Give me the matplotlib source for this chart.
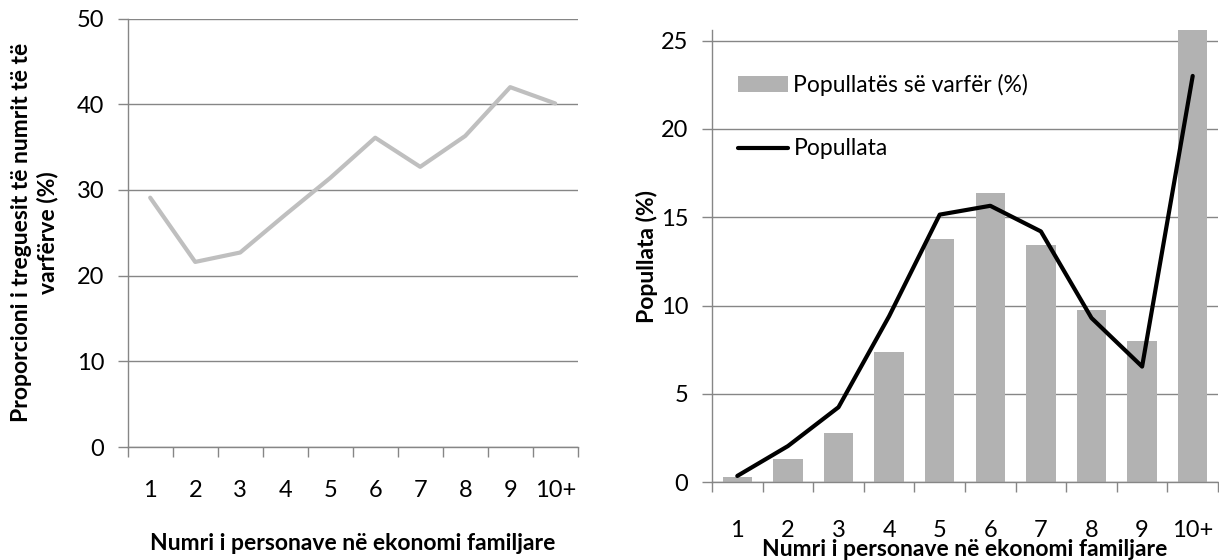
import matplotlib
matplotlib.use("Agg")
import matplotlib.pyplot as plt
import numpy as np

plt.rcParams['font.family'] = ['Lato', 'DejaVu Sans']

kategorite = ["1", "2", "3", "4", "5", "6", "7", "8", "9", "10+"]

# majtas: proporcioni i treguesit te numrit te te varferve (%)
proporcioni = [29.1, 21.6, 22.7, 27.1, 31.4, 36.1, 32.7, 36.3, 42.0, 40.1]

# djathtas: popullata e varfer (shtylla) dhe popullata (vija)
pop_varfer = [0.3, 1.3, 2.8, 7.35, 13.75, 16.4, 13.45, 9.75, 8.0, 25.9]
popullata = [0.36, 2.05, 4.25, 9.4, 15.15, 15.65, 14.2, 9.3, 6.55, 23.0]

gri_aks = "#868686"
W, H = 1219, 560
fig = plt.figure(figsize=(W / 100, H / 100), dpi=100)

x = np.arange(len(kategorite))


def stil_aksi(ax, ymax, yticks, xpad):
    ax.set_xlim(-0.5, len(kategorite) - 0.5)
    ax.set_ylim(0, ymax)
    ax.set_yticks(yticks)
    ax.set_xticks(x)
    ax.set_xticklabels(kategorite)
    ax.set_xticks(np.arange(len(kategorite) + 1) - 0.5, minor=True)
    for s in ["top", "right"]:
        ax.spines[s].set_visible(False)
    for s in ["left", "bottom"]:
        ax.spines[s].set_color(gri_aks)
        ax.spines[s].set_linewidth(1.0)
    ax.grid(axis="y", color=gri_aks, linewidth=1.0)
    ax.set_axisbelow(True)
    ax.tick_params(axis="x", which="major", length=0, labelsize=17, pad=xpad)
    ax.tick_params(axis="x", which="minor", length=7, color=gri_aks, width=1.0)
    ax.tick_params(axis="y", length=7, color=gri_aks, width=1.0, labelsize=17, pad=10)


# ---- grafiku majtas ----
ax1 = fig.add_axes([127.7 / W, 113 / H, 450 / W, 428.4 / H])
ax1.plot(x, proporcioni, color="#BFBFBF", linewidth=3.0, solid_capstyle="round")
stil_aksi(ax1, 50, [0, 10, 20, 30, 40, 50], 24)
ax1.set_xlabel("Numri i personave në ekonomi familjare", fontsize=16.5, fontweight="bold")
ax1.xaxis.set_label_coords(0.5, (447 - 543) / 428.4)
ax1.xaxis.label.set_va("center")
ax1.set_ylabel("Proporcioni i treguesit të numrit të të\nvarfërve (%)", fontsize=16.5,
               fontweight="bold", linespacing=1.25)
ax1.yaxis.set_label_coords((35 - 127.7) / 450, 0.5)
ax1.yaxis.label.set_va("center")

# ---- grafiku djathtas ----
ax2 = fig.add_axes([712 / W, 77.7 / H, 506 / W, 452.3 / H])
shtyllat = ax2.bar(x, pop_varfer, width=0.58, color="#B2B2B2", label="Popullatës së varfër (%)")
vija, = ax2.plot(x, popullata, color="black", linewidth=3.0, solid_capstyle="round",
                 label="Popullata")
stil_aksi(ax2, 25.6, [0, 5, 10, 15, 20, 25], 27)
ax2.set_xlabel("Numri i personave në ekonomi familjare", fontsize=16.5, fontweight="bold")
ax2.xaxis.set_label_coords(0.5, (482.3 - 550) / 452.3)
ax2.xaxis.label.set_va("center")
ax2.set_ylabel("Popullata (%)", fontsize=16.5, fontweight="bold")
ax2.yaxis.set_label_coords((647 - 712) / 506, 0.5)
ax2.yaxis.label.set_va("center")
ax2.legend([shtyllat, vija], ["Popullatës së varfër (%)", "Popullata"],
           loc="upper left", bbox_to_anchor=((738 - 712) / 506, (482.3 - 74) / 452.3),
           frameon=False, fontsize=16.5, handlelength=2.2, handleheight=0.65,
           handletextpad=0.22, labelspacing=1.85, borderpad=0, borderaxespad=0)

fig.savefig("out.png", dpi=100)
